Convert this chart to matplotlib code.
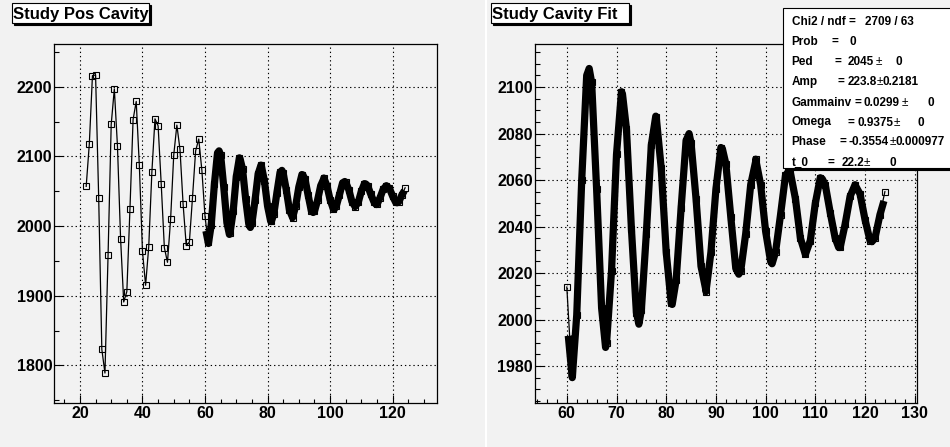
import numpy as np
import matplotlib
matplotlib.use('Agg')
import matplotlib.pyplot as plt
from matplotlib.patches import Rectangle
from matplotlib.ticker import MultipleLocator

plt.rcParams['font.family'] = ['Liberation Sans', 'DejaVu Sans']
plt.rcParams['font.weight'] = 'bold'

# ---------------- data ----------------
t_values = np.arange(22, 125)
pos_values = [
    2057, 2118, 2216, 2217, 2040, 1823, 1789, 1959, 2146, 2197,   # 22-31
    2115, 1982, 1891, 1906, 2025, 2153, 2179, 2087, 1964, 1915,   # 32-41
    1970, 2077, 2154, 2144, 2060, 1969, 1948, 2010, 2102, 2145,   # 42-51
    2110, 2031, 1972, 1977, 2041, 2108, 2125, 2080, 2014, 1977,   # 52-61
    2002, 2060, 2105, 2102, 2056, 2005, 1990, 2021, 2071, 2098,   # 62-71
    2082, 2039, 2003, 2004, 2037, 2075, 2087, 2065, 2029, 2007,   # 72-81
    2017, 2048, 2077, 2076, 2052, 2023, 2012, 2029, 2056, 2074,   # 82-91
    2067, 2044, 2022, 2021, 2037, 2058, 2069, 2058, 2038, 2025,   # 92-101
    2029, 2045, 2062, 2063, 2052, 2035, 2028, 2034, 2050, 2061,   # 102-111
    2058, 2046, 2035, 2031, 2041, 2053, 2058, 2054, 2043, 2034,   # 112-121
    2035, 2045, 2055,                                             # 122-124
]
fit_start_t = 60
# fit-curve extremes, start and end
fit_peak_t = [64.5, 71.2, 77.9, 84.6, 91.3, 98.0, 104.7, 111.4, 118.1]
fit_peak_y = [2108, 2097, 2087.5, 2080, 2073.5, 2068, 2064, 2060.5, 2057.5]
fit_trough_t = [61.1, 67.8, 74.5, 81.2, 87.9, 94.6, 101.3, 108.0, 114.7, 121.4]
fit_trough_y = [1975, 1988, 1998, 2006.5, 2013.5, 2019.5, 2024, 2028, 2031, 2033.5]
fit_ends_t = [60.3, 123.8]
fit_ends_y = [1993, 2051]

stat_names = ["Chi2 / ndf", "Prob", "Ped", "Amp", "Gammainv", "Omega", "Phase", "t_0"]
stat_values = ["2709 / 63", "0", "2045", "223.8", "0.0299", "0.9375", "-0.3554", "22.2"]
stat_errors = [None, None, "0", "0.2181", "0", "0", "0.000977", "0"]

# ---------------- figure ----------------
W, H = 950, 447
BG = '#f2f2f2'
fig = plt.figure(figsize=(W / 100, H / 100), dpi=100)
fig.patch.set_facecolor(BG)


def frac(x0, y0, x1, y1):
    return [x0 / W, 1 - y1 / H, (x1 - x0) / W, (y1 - y0) / H]


def px(x, y):
    return x / W, 1 - y / H


# white gap between pads
fig.add_artist(Rectangle(px(485, 447), 2 / W, 1, transform=fig.transFigure,
                         facecolor='white', edgecolor='none', zorder=0))

t = np.asarray(t_values, dtype=float)
y = np.asarray(pos_values, dtype=float)
mask_fit = (t > fit_start_t) & (t < 124)
fit_t = np.concatenate([t[mask_fit], fit_peak_t, fit_trough_t, fit_ends_t])
fit_y = np.concatenate([y[mask_fit], fit_peak_y, fit_trough_y, fit_ends_y])
order = np.argsort(fit_t)
fit_t, fit_y = fit_t[order], fit_y[order]


def style_axes(ax, xlim, ylim, xmaj, xmin, ymaj, ymin):
    ax.set_facecolor(BG)
    ax.set_xlim(*xlim)
    ax.set_ylim(*ylim)
    ax.xaxis.set_major_locator(MultipleLocator(xmaj))
    ax.xaxis.set_minor_locator(MultipleLocator(xmin))
    ax.yaxis.set_major_locator(MultipleLocator(ymaj))
    ax.yaxis.set_minor_locator(MultipleLocator(ymin))
    ax.tick_params(axis='both', which='both', direction='in', top=False, right=False,
                   width=0.8, colors='black', labelsize=11.5)
    ax.tick_params(axis='y', which='major', length=6.5, pad=1.5)
    ax.tick_params(axis='y', which='minor', length=3.6)
    ax.tick_params(axis='x', which='major', length=5.8, pad=2.5)
    ax.tick_params(axis='x', which='minor', length=3.0)
    for lab in ax.get_xticklabels() + ax.get_yticklabels():
        lab.set_fontweight('bold')
    for s in ax.spines.values():
        s.set_linewidth(0.9)
        s.set_color('black')
    ax.grid(True, which='major', color='black', linestyle=(0, (1.2, 2.6)), linewidth=0.8)
    ax.set_axisbelow(True)


def draw_graph(ax, tt, yy):
    ax.plot(tt, yy, color='black', lw=0.9, zorder=3)
    ax.plot(tt, yy, ls='none', marker='s', ms=4.6, mfc='none', mec='black', mew=0.8, zorder=3)
    ax.plot(fit_t, fit_y, color='black', lw=5.2, solid_joinstyle='round',
            solid_capstyle='butt', zorder=4)


axL = fig.add_axes(frac(54.3, 44.3, 437, 403))
style_axes(axL, (11.8, 134.2), (1746, 2261), 20, 5, 100, 50)
draw_graph(axL, t, y)

axR = fig.add_axes(frac(535, 44.3, 916.7, 403))
style_axes(axR, (53.6, 130.4), (1964.1, 2118.4), 10, 2, 20, 5)
selR = t >= 60
draw_graph(axR, t[selR], y[selR])


def boxed(x0, y0, x1, y1, shadow=2):
    fig.add_artist(Rectangle(px(x0 + shadow, y1 + shadow), (x1 - x0) / W, (y1 - y0) / H,
                             transform=fig.transFigure, facecolor='black', edgecolor='black',
                             lw=0.8, zorder=10))
    fig.add_artist(Rectangle(px(x0, y1), (x1 - x0) / W, (y1 - y0) / H,
                             transform=fig.transFigure, facecolor='white', edgecolor='black',
                             lw=0.8, zorder=11))


# titles
boxed(11.7, 2.7, 148.7, 22.7)
fig.text(*px(12.7, 19.3), "Study Pos Cavity", fontsize=12, fontweight='bold',
         ha='left', va='baseline', zorder=12)
boxed(491, 2.7, 628.7, 22.7)
fig.text(*px(492.3, 19.3), "Study Cavity Fit", fontsize=12, fontweight='bold',
         ha='left', va='baseline', zorder=12)

# stats box
boxed(783, 8.3, 960, 168.3)
name_x = 791.7
eq_cx = [852, 835, 838, 841, 857.5, 851, 843, 830.5]
val_x = [865, 850, 847.5, 847.5, 863.5, 857.5, 848.5, 842]
pm_x = [None, None, 876, 876.5, 902, 893.5, 890, 864]
err_x = [None, None, 895.5, 882.5, 927.5, 917, 896, 890]
base_y = [25, 45, 65, 85, 105.5, 125.5, 145, 166]
fs = 8.5
for i in range(len(stat_names)):
    yb = base_y[i]
    fig.text(*px(name_x, yb), stat_names[i], fontsize=fs, fontweight='bold', va='baseline', zorder=12)
    fig.text(*px(eq_cx[i], yb), "=", fontsize=fs, fontweight='bold', ha='center',
             va='baseline', zorder=12)
    fig.text(*px(val_x[i], yb), stat_values[i], fontsize=fs, fontweight='bold', va='baseline', zorder=12)
    if pm_x[i] is not None:
        fig.text(*px(pm_x[i], yb), "\u00b1", fontsize=fs, fontweight='normal', va='baseline', zorder=12)
    if err_x[i] is not None:
        fig.text(*px(err_x[i], yb), stat_errors[i], fontsize=fs, fontweight='bold', va='baseline', zorder=12)

fig.savefig('out.png', dpi=100, facecolor=BG)
